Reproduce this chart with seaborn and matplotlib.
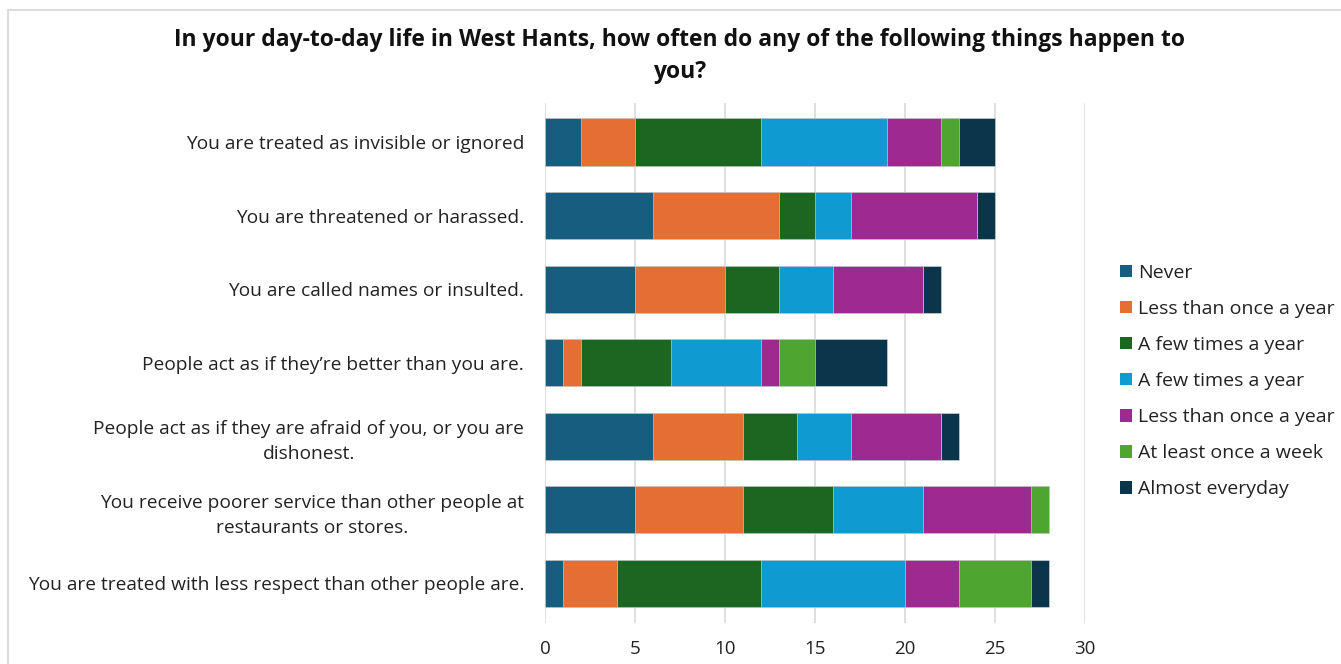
import numpy as np
import pandas as pd
import matplotlib
matplotlib.use("Agg")
import matplotlib.pyplot as plt
from matplotlib.patches import Patch
from matplotlib.lines import Line2D
import seaborn as sns

statements = [
    "You are treated as invisible or ignored",
    "You are threatened or harassed.",
    "You are called names or insulted.",
    "People act as if they\u2019re better than you are.",
    "People act as if they are afraid of you, or you are\ndishonest.",
    "You receive poorer service than other people at\nrestaurants or stores.",
    "You are treated with less respect than other people are.",
]
series_names = [
    "Never",
    "Less than once a year",
    "A few times a year",
    "A few times a year",
    "Less than once a year",
    "At least once a week",
    "Almost everyday",
]
never = [2, 6, 5, 1, 6, 5, 1]
less_once_year_a = [3, 7, 5, 1, 5, 6, 3]
few_times_year_a = [7, 2, 3, 5, 3, 5, 8]
few_times_year_b = [7, 2, 3, 5, 3, 5, 8]
less_once_year_b = [3, 7, 5, 1, 5, 6, 3]
once_a_week = [1, 0, 0, 2, 0, 1, 4]
almost_everyday = [2, 1, 1, 4, 1, 0, 1]
colors = ["#175D80", "#E56F33", "#1B6621", "#0F9AD2", "#9D2A8E", "#4EA52F", "#0B354B"]

series = [never, less_once_year_a, few_times_year_a, few_times_year_b,
          less_once_year_b, once_a_week, almost_everyday]

sns.set_theme(style="white")
plt.rcParams["font.family"] = ["Open Sans", "DejaVu Sans"]

fig = plt.figure(figsize=(13.41, 6.64), dpi=100)
ax = fig.add_axes([545 / 1341, 1 - 623 / 664, 540 / 1341, 520 / 664])

cum = np.cumsum(np.array(series), axis=0)
# draw largest cumulative first so shorter ones sit on top
for i in range(len(series) - 1, -1, -1):
    df = pd.DataFrame({"statement": statements, "value": cum[i]})
    sns.barplot(data=df, x="value", y="statement", orient="h", color=colors[i],
                saturation=1, width=0.64, edgecolor="#dddddd", linewidth=0.4,
                ax=ax, zorder=3)

ax.set_xlim(0, 30)
ax.set_ylim(6.54, -0.53)
ax.set_xticks(range(0, 31, 5))
ax.grid(axis="x", color="#d9d9d9", linewidth=1.2, zorder=0)
ax.grid(axis="y", visible=False)
for s in ax.spines.values():
    s.set_visible(False)
ax.set_xlabel("")
ax.set_ylabel("")
ax.tick_params(axis="x", length=0, pad=12, labelsize=13.5, labelcolor="#222222")
ax.tick_params(axis="y", length=0, pad=15, labelsize=13.8, labelcolor="#222222")
for t in ax.get_yticklabels():
    t.set_multialignment("center")
    t.set_linespacing(1.5)

handles = [Patch(facecolor=c, edgecolor="none") for c in colors]
fig.legend(handles, series_names, loc="upper left",
           bbox_to_anchor=(1112 / 1341, 1 - 256 / 664), frameon=False,
           fontsize=14, handlelength=0.62, handleheight=0.62, handletextpad=0.3,
           labelspacing=0.93, labelcolor="#222222", borderaxespad=0)

title_1 = "In your day-to-day life in West Hants, how often do any of the following things happen to"
title_2 = "you?"
fig.text(680 / 1341, 1 - 40 / 664, title_1, ha="center", va="center",
         fontsize=16.5, fontweight="bold", color="#111111")
fig.text(680 / 1341, 1 - 72 / 664, title_2, ha="center", va="center",
         fontsize=16.5, fontweight="bold", color="#111111")

# light frame around the chart
fig.add_artist(Line2D([8 / 1341, 1], [1 - 10 / 664, 1 - 10 / 664],
                      transform=fig.transFigure, color="#dcdcdc", linewidth=1.5))
fig.add_artist(Line2D([8 / 1341, 8 / 1341], [0, 1 - 10 / 664],
                      transform=fig.transFigure, color="#dcdcdc", linewidth=1.5))

fig.savefig("out.png", dpi=100)
